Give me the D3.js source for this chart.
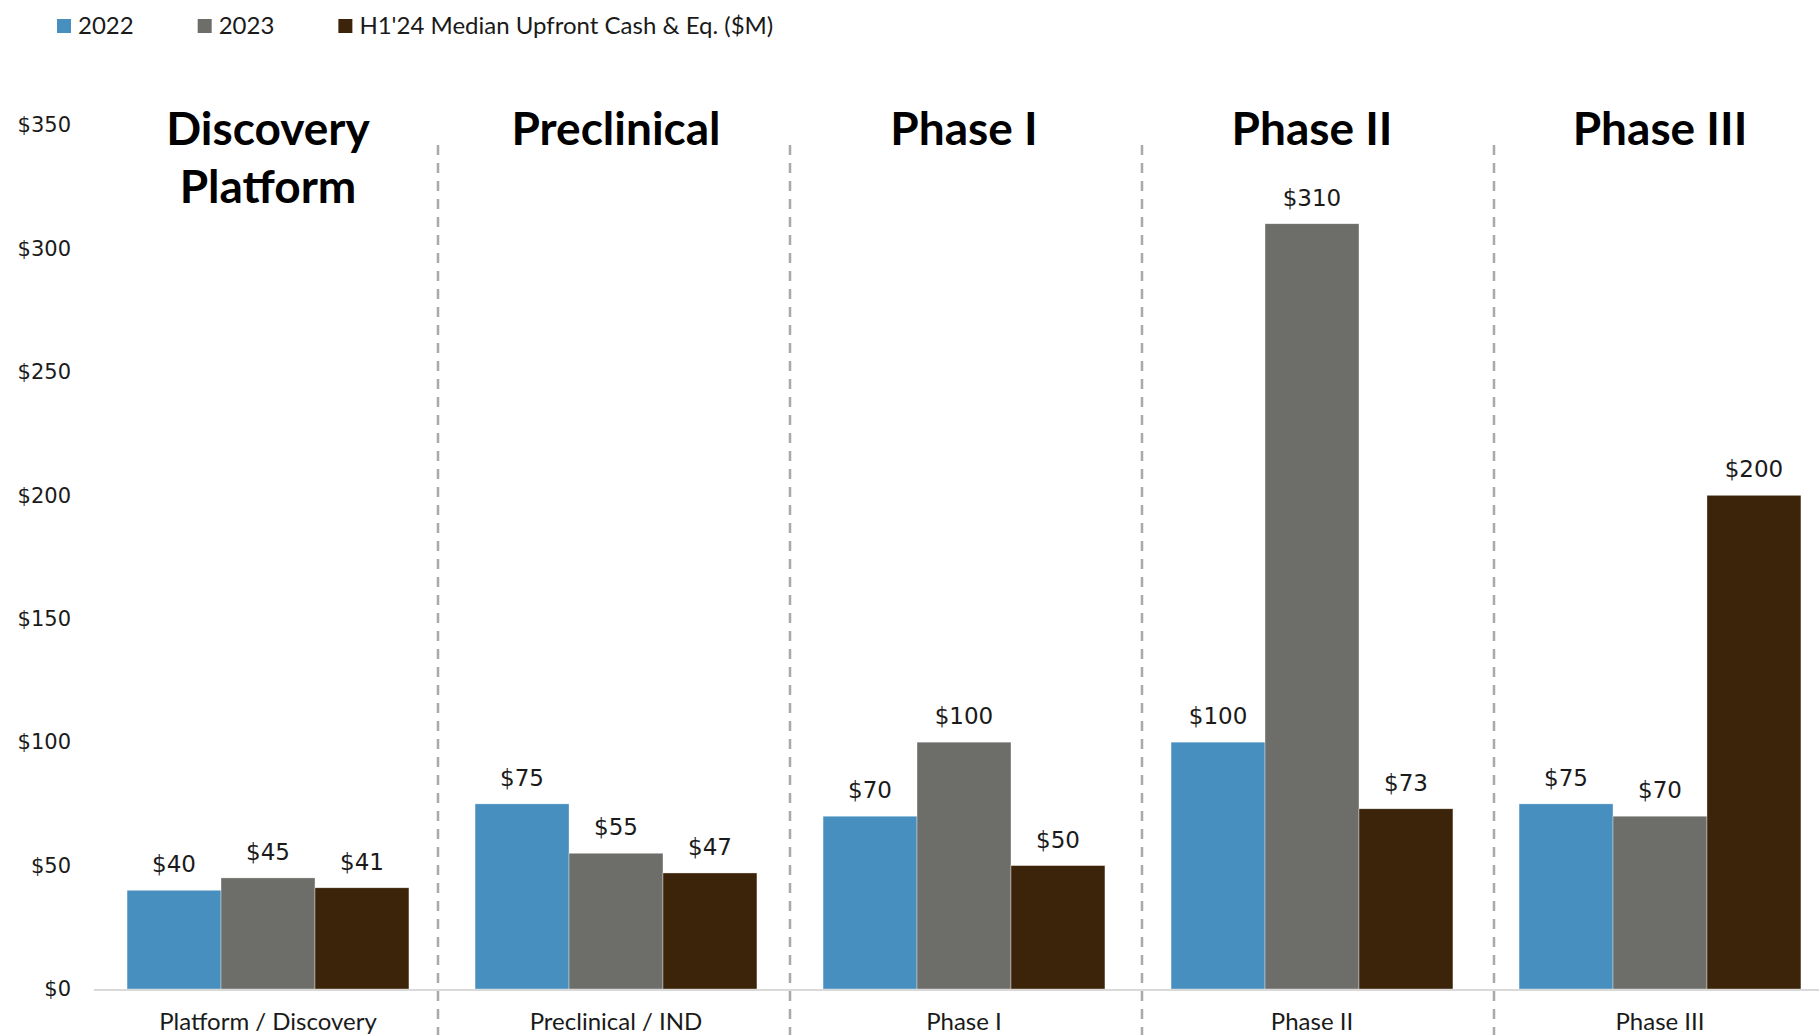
<!DOCTYPE html>
<html>
<head>
<meta charset="utf-8">
<script src="https://cdn.jsdelivr.net/npm/d3@7"></script>
<style>
  html, body { margin: 0; padding: 0; background: #fff; }
  svg { display: block; }
</style>
</head>
<body>
<svg id="chart" width="1819" height="1035"></svg>
<script>
// Deal stage categories (axis labels) and panel headings
const categories = ["Platform / Discovery", "Preclinical / IND", "Phase I", "Phase II", "Phase III"];
const headings = [["Discovery", "Platform"], ["Preclinical"], ["Phase I"], ["Phase II"], ["Phase III"]];

// Series
const seriesNames = ["2022", "2023", "H1'24 Median Upfront Cash & Eq. ($M)"];
const values2022 = [40, 75, 70, 100, 75];
const values2023 = [45, 55, 100, 310, 70];
const valuesH124 = [41, 47, 50, 73, 200];

// Y axis ticks
const yTicks = [0, 50, 100, 150, 200, 250, 300, 350];

const colors = ["#478fbf", "#6d6e69", "#3b2409"];
const seriesValues = [values2022, values2023, valuesH124];

const svg = d3.select("#chart");
const W = 1819, H = 1035;
const left = 94, right = 1834, baseY = 989, topY = 125;

// bar groups
const x0 = d3.scaleBand().domain(categories).range([left, right])
  .paddingInner(0.19).paddingOuter(0.095);
const x1 = d3.scaleBand().domain(seriesNames).range([0, x0.bandwidth()]);
// panels separated by dashed dividers
const panel = d3.scaleBand().domain(categories).range([86, 1846]);
const y = d3.scaleLinear().domain([0, 350]).range([baseY, topY]);
const color = d3.scaleOrdinal().domain(seriesNames).range(colors);

const bodyFont = "DejaVu Sans, sans-serif";
const condFont = "Lato, sans-serif";

// Y axis labels
const yAxis = d3.axisLeft(y).tickValues(yTicks).tickFormat(d => "$" + d).tickSize(0).tickPadding(0);
const yG = svg.append("g").attr("transform", "translate(71,0)").call(yAxis);
yG.select(".domain").remove();
yG.selectAll("text").attr("font-family", bodyFont).attr("font-size", 21).attr("fill", "#1a1a1a");

// Panel dividers
svg.append("g").selectAll("line")
  .data(categories.slice(0, -1))
  .join("line")
  .attr("x1", d => panel(d) + panel.step())
  .attr("x2", d => panel(d) + panel.step())
  .attr("y1", 145).attr("y2", H)
  .attr("stroke", "#a9a9a9").attr("stroke-width", 2.5)
  .attr("stroke-dasharray", "10,8");

// Bars
const rows = categories.map((c, i) => ({
  cat: c,
  items: seriesNames.map((s, j) => ({ s, v: seriesValues[j][i] }))
}));

const groups = svg.append("g").selectAll("g")
  .data(rows)
  .join("g")
  .attr("transform", d => `translate(${x0(d.cat)},0)`);

groups.selectAll("rect")
  .data(d => d.items)
  .join("rect")
  .attr("x", d => x1(d.s))
  .attr("width", x1.bandwidth())
  .attr("y", d => y(d.v))
  .attr("height", d => y(0) - y(d.v))
  .attr("fill", d => color(d.s))
  .attr("stroke", "#ffffff").attr("stroke-width", 0.6).attr("stroke-opacity", 0.6);

groups.selectAll("text.val")
  .data(d => d.items)
  .join("text")
  .attr("class", "val")
  .attr("x", d => x1(d.s) + x1.bandwidth() / 2)
  .attr("y", d => y(d.v) - 18)
  .attr("text-anchor", "middle")
  .attr("font-family", bodyFont).attr("font-size", 23).attr("fill", "#1a1a1a")
  .text(d => "$" + d.v);

// Baseline
svg.append("line")
  .attr("x1", left).attr("x2", W)
  .attr("y1", baseY + 1).attr("y2", baseY + 1)
  .attr("stroke", "#d9d9d9").attr("stroke-width", 2);

// Category labels
svg.append("g").selectAll("text")
  .data(categories)
  .join("text")
  .attr("x", d => x0(d) + x0.bandwidth() / 2)
  .attr("y", 1030)
  .attr("text-anchor", "middle")
  .attr("font-family", condFont).attr("font-size", 24).attr("fill", "#1a1a1a")
  .text(d => d);

// Panel headings
const head = svg.append("g").selectAll("text")
  .data(categories.map((c, i) => ({ c, lines: headings[i] })))
  .join("text")
  .attr("text-anchor", "middle")
  .attr("font-family", condFont).attr("font-weight", 700).attr("font-size", 46).attr("fill", "#000");
head.selectAll("tspan")
  .data(d => d.lines.map(l => ({ l, c: d.c })))
  .join("tspan")
  .attr("x", d => x0(d.c) + x0.bandwidth() / 2)
  .attr("y", (d, i) => 145 + i * 58)
  .text(d => d.l);

// Legend
const legend = svg.append("g");
let lx = 57;
seriesNames.forEach(s => {
  legend.append("rect").attr("x", lx).attr("y", 19).attr("width", 14).attr("height", 14).attr("fill", color(s));
  const t = legend.append("text").attr("x", lx + 21).attr("y", 34)
    .attr("font-family", condFont).attr("font-size", 24).attr("fill", "#1a1a1a").text(s);
  lx += 21 + t.node().getComputedTextLength() + 64;
});
</script>
</body>
</html>
